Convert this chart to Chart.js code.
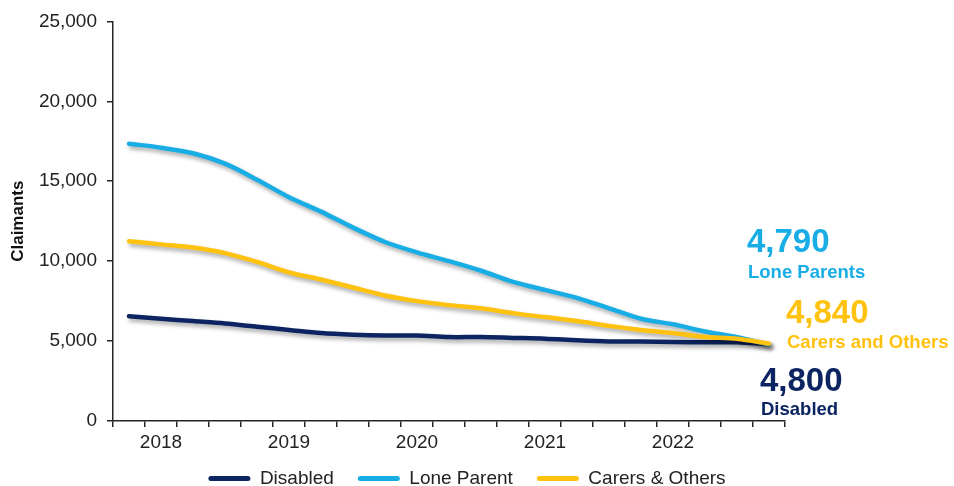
<!DOCTYPE html>
<html>
<head>
<meta charset="utf-8">
<script src="https://cdn.jsdelivr.net/npm/chart.js@4"></script>
<style>
  html, body { margin: 0; padding: 0; background: #fff; }
  #wrap { width: 954px; height: 486px; }
</style>
</head>
<body>
<div id="wrap"><canvas id="claimantsChart" width="954" height="486"></canvas></div>
<script>
  // Data (quarterly)
  const quarters = [
    'Q4 2017',
    'Q1 2018', 'Q2 2018', 'Q3 2018', 'Q4 2018',
    'Q1 2019', 'Q2 2019', 'Q3 2019', 'Q4 2019',
    'Q1 2020', 'Q2 2020', 'Q3 2020', 'Q4 2020',
    'Q1 2021', 'Q2 2021', 'Q3 2021', 'Q4 2021',
    'Q1 2022', 'Q2 2022', 'Q3 2022', 'Q4 2022'
  ];
  const disabled = [6560, 6400, 6250, 6100, 5900, 5700, 5500, 5400, 5350, 5350, 5250,
    5250, 5200, 5150, 5050, 4980, 4970, 4950, 4920, 4920, 4800];
  const loneParent = [17350, 17100, 16750, 16100, 15100, 14000, 13100, 12100, 11200, 10550, 10000,
    9400, 8700, 8200, 7700, 7050, 6400, 6050, 5600, 5250, 4790];
  const carersOthers = [11250, 11050, 10850, 10500, 9950, 9300, 8850, 8350, 7850, 7500, 7250,
    7050, 6750, 6500, 6250, 5950, 5700, 5500, 5250, 5150, 4840];
  const yTicks = [0, 5000, 10000, 15000, 20000, 25000];
  const endLabels = ['Disabled', 'Lone Parents', 'Carers and Others'];

  const FONT = '"Liberation Sans", Arial, sans-serif';
  const NAVY = '#0c2461';
  const BLUE = '#19ade6';
  const GOLD = '#ffc20e';
  const AXIS = '#262626';

  // soft drop shadow under each line
  const lineShadow = {
    id: 'lineShadow',
    beforeDatasetDraw(chart) {
      const c = chart.ctx;
      c.save();
      c.shadowColor = 'rgba(0,0,0,0.35)';
      c.shadowBlur = 4;
      c.shadowOffsetX = 2;
      c.shadowOffsetY = 3;
    },
    afterDatasetDraw(chart) {
      chart.ctx.restore();
    }
  };

  // x axis box is kept short so the legend sits close; let its labels spill below it
  const unclipX = {
    id: 'unclipX',
    afterLayout(chart) {
      chart.scales.x.bottom += 30;
    }
  };

  // end-of-line value labels
  const endValueLabels = {
    id: 'endValueLabels',
    afterDraw(chart) {
      const c = chart.ctx;
      // [datasetIndex, dx, dyValue, dyName]
      const spots = [[1, -22, -92, -66], [2, 17, -21, 4], [0, -9, 47, 71]];
      c.save();
      c.textAlign = 'left';
      c.textBaseline = 'alphabetic';
      spots.forEach(([i, dx, dyV, dyN]) => {
        const ds = chart.data.datasets[i];
        const pts = chart.getDatasetMeta(i).data;
        const pt = pts[pts.length - 1];
        const v = ds.data[ds.data.length - 1];
        c.fillStyle = ds.borderColor;
        c.font = 'bold 33px ' + FONT;
        c.fillText(v.toLocaleString('en-US'), pt.x + dx, pt.y + dyV);
        c.font = 'bold 18.5px ' + FONT;
        c.fillText(endLabels[i], pt.x + dx + 1, pt.y + dyN);
      });
      c.restore();
    }
  };

  const config = {
    type: 'line',
    data: {
      labels: quarters,
      datasets: [
        { label: 'Disabled', data: disabled, borderColor: NAVY, backgroundColor: NAVY, order: 2 },
        { label: 'Lone Parent', data: loneParent, borderColor: BLUE, backgroundColor: BLUE, order: 1 },
        { label: 'Carers & Others', data: carersOthers, borderColor: GOLD, backgroundColor: GOLD, order: 0 }
      ]
    },
    options: {
      responsive: false,
      animation: false,
      layout: { padding: { top: 21, right: 20, bottom: -12, left: 0 } },
      elements: {
        point: { radius: 0, hoverRadius: 0 },
        line: { borderWidth: 4.5, tension: 0.3, borderCapStyle: 'round', borderJoinStyle: 'round', fill: false }
      },
      scales: {
        x: {
          offset: true,
          grid: { offset: true, drawOnChartArea: false, drawTicks: true, tickLength: 6, color: AXIS, lineWidth: 1.5 },
          border: { color: AXIS, width: 1.5 },
          ticks: {
            autoSkip: false,
            maxRotation: 0,
            padding: 4,
            color: '#222',
            font: { family: FONT, size: 19 },
            callback: function (value) {
              const lab = this.getLabelForValue(value);
              return lab.startsWith('Q1') ? lab.slice(3) : '';
            }
          },
          afterFit: (s) => { s.height = 24; }
        },
        y: {
          min: 0,
          max: 25000,
          afterBuildTicks: (s) => { s.ticks = yTicks.map(v => ({ value: v })); },
          grid: { drawOnChartArea: false, drawTicks: true, tickLength: 6, color: AXIS, lineWidth: 1.5 },
          border: { color: AXIS, width: 1.5 },
          ticks: {
            padding: 10,
            color: '#222',
            font: { family: FONT, size: 19 },
            callback: (v) => v.toLocaleString('en-US')
          },
          title: {
            display: true,
            text: 'Claimants',
            color: '#111',
            font: { family: FONT, size: 17, weight: 'bold' },
            padding: { top: 8, bottom: 0 }
          },
          afterFit: (s) => { s.width = 113; }
        },
        // empty right-hand space for the end labels
        yRight: {
          type: 'linear',
          position: 'right',
          display: true,
          grid: { display: false, drawTicks: false },
          border: { display: false },
          ticks: { display: false },
          afterFit: (s) => { s.width = 149; }
        }
      },
      plugins: {
        legend: {
          position: 'bottom',
          labels: {
            boxWidth: 42,
            boxHeight: 5,
            useBorderRadius: true,
            borderRadius: 2.5,
            padding: 24,
            color: '#222',
            font: { family: FONT, size: 19 },
            sort: (a, b) => a.datasetIndex - b.datasetIndex,
            generateLabels: (chart) => {
              const items = Chart.defaults.plugins.legend.labels.generateLabels(chart);
              items.forEach(it => { it.lineWidth = 0; });
              return items;
            }
          }
        },
        tooltip: { enabled: false }
      }
    },
    plugins: [lineShadow, unclipX, endValueLabels]
  };

  const ctx = document.getElementById('claimantsChart').getContext('2d');
  new Chart(ctx, config);
</script>
</body>
</html>
